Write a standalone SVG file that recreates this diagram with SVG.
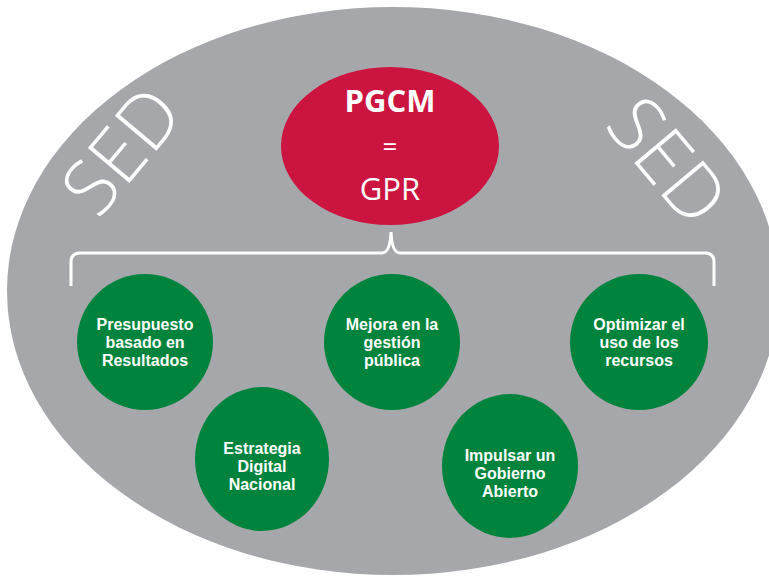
<svg xmlns="http://www.w3.org/2000/svg" width="769" height="578" viewBox="0 0 769 578">
<style>
.g{fill:#00843d}
.t{font-family:"Liberation Sans Narrow","Liberation Sans",Arial,sans-serif;font-weight:bold;font-size:16px;fill:#fff;text-anchor:middle}
.sed{font-family:"Open Sans","DejaVu Sans",sans-serif;font-weight:300;font-size:76px;fill:#fff;text-anchor:middle}
.r{font-family:"Open Sans","Liberation Sans",sans-serif;fill:#fff;text-anchor:middle}
</style>
<rect width="769" height="578" fill="#fff"/>
<g id="background">
<ellipse cx="393" cy="291" rx="386" ry="284" fill="#a6a7ab"/>
<text class="sed" transform="translate(142,168) rotate(-50)">SED</text>
<text class="sed" transform="translate(647,178) rotate(50)">SED</text>
</g>
<g id="pgcm">
<ellipse cx="390" cy="146" rx="109" ry="79" fill="#cc1440"/>
<text class="r" x="390" y="112" font-size="31" font-weight="bold">PGCM</text>
<text class="r" x="390" y="156" font-size="26">=</text>
<text class="r" x="390" y="200" font-size="31">GPR</text>
</g>
<g id="connectors">
<path d="M71,286 V262 Q71,253 80,253 H382 Q390,253 391,232 Q392,253 400,253 H705 Q714,253 714,262 V286" fill="none" stroke="#fff" stroke-width="3"/>
</g>
<g id="n1"><ellipse class="g" cx="145" cy="342" rx="68" ry="68"/>
<text class="t" x="145" y="330">Presupuesto</text><text class="t" x="145" y="348">basado en</text><text class="t" x="145" y="366">Resultados</text></g>
<g id="n2"><ellipse class="g" cx="392" cy="342" rx="68" ry="68"/>
<text class="t" x="392" y="330">Mejora en la</text><text class="t" x="392" y="348">gestión</text><text class="t" x="392" y="366">pública</text></g>
<g id="n3"><ellipse class="g" cx="639" cy="342" rx="69" ry="68"/>
<text class="t" x="639" y="330">Optimizar el</text><text class="t" x="639" y="348">uso de los</text><text class="t" x="639" y="366">recursos</text></g>
<g id="n4"><ellipse class="g" cx="262" cy="459" rx="67" ry="72"/>
<text class="t" x="262" y="454">Estrategia</text><text class="t" x="262" y="472">Digital</text><text class="t" x="262" y="490">Nacional</text></g>
<g id="n5"><ellipse class="g" cx="510" cy="466" rx="68" ry="72"/>
<text class="t" x="510" y="461">Impulsar un</text><text class="t" x="510" y="479">Gobierno</text><text class="t" x="510" y="497">Abierto</text></g>
</svg>
